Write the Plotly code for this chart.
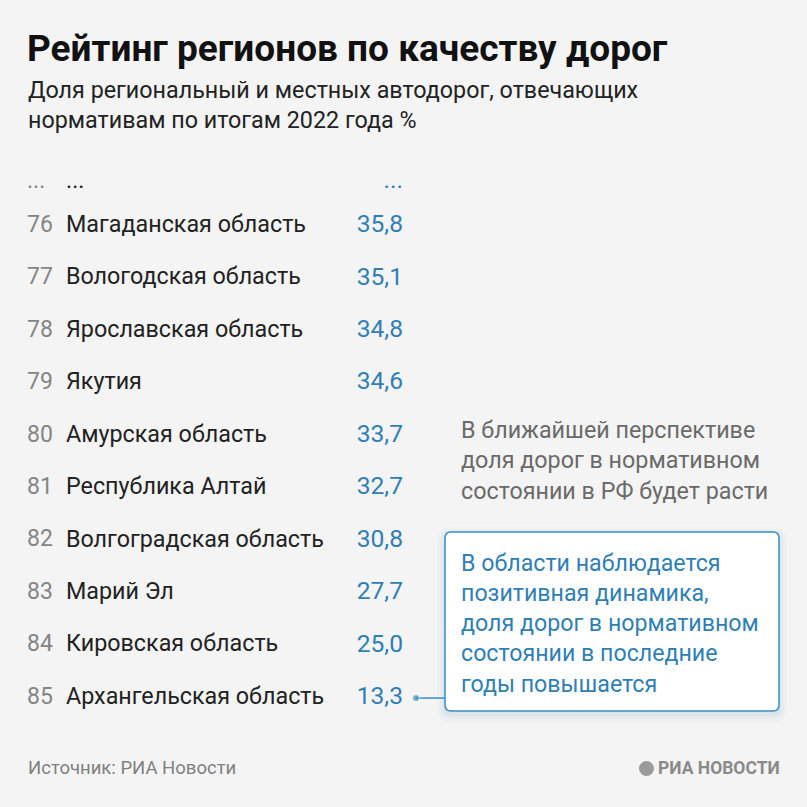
import plotly.graph_objects as go

# ---- data ----
ranks = [76, 77, 78, 79, 80, 81, 82, 83, 84, 85]
regions = ["Магаданская область", "Вологодская область", "Ярославская область",
           "Якутия", "Амурская область", "Республика Алтай",
           "Волгоградская область", "Марий Эл", "Кировская область",
           "Архангельская область"]
values = [35.8, 35.1, 34.8, 34.6, 33.7, 32.7, 30.8, 27.7, 25.0, 13.3]

title = "Рейтинг регионов по качеству дорог"
subtitle = "Доля региональный и местных автодорог, отвечающих<br>нормативам по итогам 2022 года %"
note_gray = "В ближайшей перспективе<br>доля дорог в нормативном<br>состоянии в РФ будет расти"
note_box = "В области наблюдается<br>позитивная динамика,<br>доля дорог в нормативном<br>состоянии в последние<br>годы повышается"
source = "Источник: РИА Новости"
logo = "РИА НОВОСТИ"

# ---- layout constants ----
W = H = 807
BG = "#f4f4f4"
GRAY = "#858585"
DARK = "#222222"
BLUE = "#2f7fb5"
FONT = "Roboto"
ROW0_PX = 226.0
ROW_PX = 52.45
y_top = ranks[0] - ROW0_PX / ROW_PX
y_bot = y_top + H / ROW_PX


def py(px):
    return 1 - px / H


fmt = [f"{v:.1f}".replace(".", ",") for v in values]
dots_y = ranks[0] - 0.84

fig = go.Figure()
fig.add_trace(go.Scatter(
    x=[27] * (len(ranks) + 1), y=[dots_y] + ranks,
    text=["..."] + [str(r) for r in ranks], mode="text",
    textposition="middle right",
    textfont=dict(family=FONT, size=23, color=GRAY), hoverinfo="skip"))
fig.add_trace(go.Scatter(
    x=[66] * (len(ranks) + 1), y=[dots_y] + ranks,
    text=["..."] + regions, mode="text", textposition="middle right",
    textfont=dict(family=FONT, size=23.3, color=DARK), hoverinfo="skip"))
fig.add_trace(go.Scatter(
    x=[403] * (len(ranks) + 1), y=[dots_y] + ranks,
    text=["..."] + fmt, mode="text", textposition="middle left",
    textfont=dict(family=FONT, size=24.6, color=BLUE), hoverinfo="skip"))
# connector from last value to the callout box
fig.add_trace(go.Scatter(
    x=[416, 445], y=[ranks[-1], ranks[-1]], mode="lines+markers",
    line=dict(color="#3a8cc2", width=1.5),
    marker=dict(size=[7, 0], color="#3a8cc2"), hoverinfo="skip"))

# callout box with rounded corners (and soft shadow)
x0, x1, t, b, r = 445, 779, 532, 711, 6


def rpath(x0, x1, t, b, r):
    yt, yb = py(t), py(b)
    rx = r / W
    ry = r / H
    X0, X1 = x0 / W, x1 / W
    return (f"M{X0 + rx},{yt} L{X1 - rx},{yt} Q{X1},{yt} {X1},{yt - ry} "
            f"L{X1},{yb + ry} Q{X1},{yb} {X1 - rx},{yb} L{X0 + rx},{yb} "
            f"Q{X0},{yb} {X0},{yb + ry} L{X0},{yt - ry} Q{X0},{yt} {X0 + rx},{yt} Z")


shapes = []
for i, a in enumerate([0.05, 0.04, 0.03]):
    g = 2 + i * 3
    shapes.append(dict(type="path", xref="paper", yref="paper",
                       path=rpath(x0 - g, x1 + g, t - g + 3, b + g + 3, r + g),
                       fillcolor=f"rgba(60,130,190,{a})", line=dict(width=0),
                       layer="below"))
shapes.append(dict(type="path", xref="paper", yref="paper",
                   path=rpath(x0, x1, t, b, r), fillcolor="white",
                   line=dict(color="#3a8cc2", width=1.5), layer="below"))
# logo mark
shapes.append(dict(type="circle", xref="paper", yref="paper",
                   x0=639 / W, x1=654 / W, y0=py(776), y1=py(761),
                   fillcolor="#9a9a9a", line=dict(width=0)))

annotations = [
    dict(text=f"<b>{title}</b>", x=25 / W, y=py(25), xanchor="left", yanchor="top",
         font=dict(family=FONT, size=37, color="#111111")),
    dict(text=subtitle, x=26 / W, y=py(74), xanchor="left", yanchor="top", align="left",
         font=dict(family=FONT, size=23.3, color="#222222")),
    dict(text=note_gray, x=459 / W, y=py(414), xanchor="left", yanchor="top", align="left",
         font=dict(family=FONT, size=23.3, color="#6a6a6a")),
    dict(text=note_box, x=459 / W, y=py(547), xanchor="left", yanchor="top", align="left",
         font=dict(family=FONT, size=23.2, color=BLUE)),
    dict(text=source, x=26 / W, y=py(768), xanchor="left", yanchor="middle",
         font=dict(family=FONT, size=18.5, color="#808080")),
    dict(text=f"<b>{logo}</b>", x=782 / W, y=py(768), xanchor="right", yanchor="middle",
         font=dict(family=FONT, size=17.5, color="#8a8a8a")),
]
for a in annotations:
    a.update(xref="paper", yref="paper", showarrow=False)

fig.update_layout(
    width=W, height=H, margin=dict(l=0, r=0, t=0, b=0),
    paper_bgcolor=BG, plot_bgcolor=BG, showlegend=False,
    xaxis=dict(range=[0, W], visible=False, fixedrange=True),
    yaxis=dict(range=[y_bot, y_top], visible=False, fixedrange=True),
    shapes=shapes, annotations=annotations,
)
fig.write_html("out.html", config={"displayModeBar": False},
               post_script="document.body.style.margin='0px';document.body.style.overflow='hidden';")
